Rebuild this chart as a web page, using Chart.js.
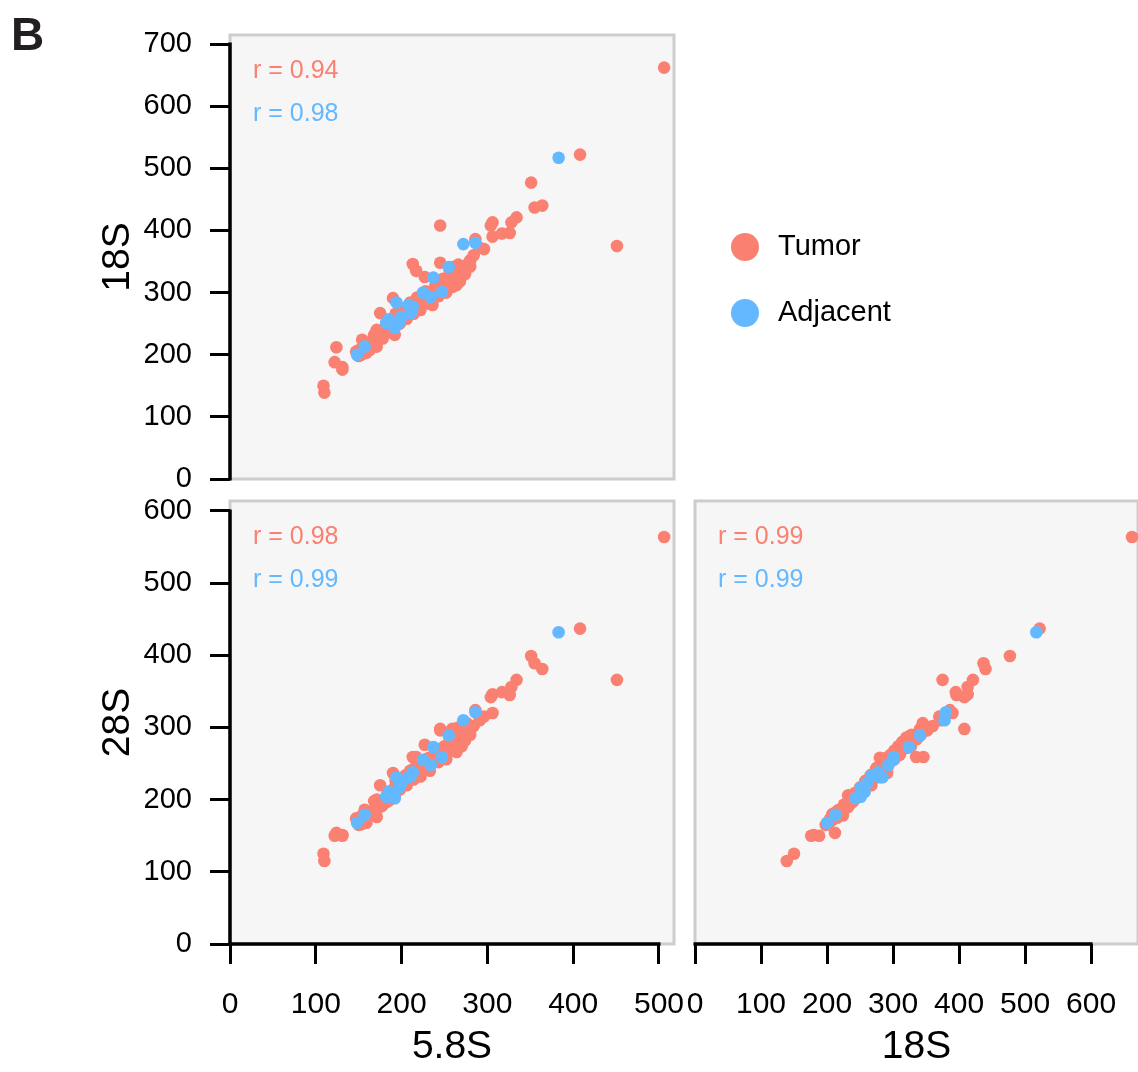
<!DOCTYPE html>
<html>
<head>
<meta charset="utf-8">
<script src="https://cdn.jsdelivr.net/npm/chart.js@4/dist/chart.umd.min.js"></script>
<style>
  html, body { margin: 0; padding: 0; background: #fff; }
  body { width: 1138px; height: 1072px; position: relative; overflow: hidden; }
  canvas { position: absolute; }
  #cTop { left: 0; top: 0; }
  #cLeft { left: 0; top: 490px; }
  #cRight { left: 685px; top: 490px; }
</style>
</head>
<body>
<canvas id="cTop" width="1138" height="490"></canvas>
<canvas id="cLeft" width="685" height="582"></canvas>
<canvas id="cRight" width="453" height="582"></canvas>
<script>
// rRNA abundance per sample: 5.8S, 18S and 28S
const tumor58 = [506,408,351,355,364,451,245,334,328,317,306,304,326,306,286,291,284,276,245,259,
  259,270,213,217,227,190,175,109,110,122,131,131,124,236,221,192,171,154,159,151,
  171,147,150,262,268,272,258,280,266,296,
  150,153,155,158,160,162,163,165,167,168,170,171,173,174,176,177,179,180,182,183,
  185,186,188,189,191,192,194,196,197,199,200,202,204,205,207,209,211,213,215,217,
  219,221,224,226,229,232,235,238,241,244,247,250,254,258,262,266,
  178,184,187,193,198,203,206,210,214,218,222,228,233,239,243,248,252,256,264,270,
  274,280,168,163,157];
const tumor18 = [662,522,477,437,440,375,408,421,413,395,413,408,396,390,386,372,360,345,348,341,
  309,327,346,335,325,291,267,150,139,188,176,180,212,280,275,232,240,224,203,208,
  213,205,198,335,318,338,328,352,345,370,
  204,200,212,206,215,210,220,214,225,218,228,222,232,226,236,230,240,234,244,238,
  248,242,252,246,256,250,260,254,264,258,268,262,272,266,276,270,280,274,284,278,
  288,282,292,286,296,290,300,296,306,302,312,308,318,314,324,320,
  226,250,236,266,250,274,258,284,266,292,272,302,282,310,294,322,300,336,312,340,
  330,342,232,208,218];
const tumor28 = [564,437,399,389,381,366,298,366,356,349,346,342,345,320,324,310,302,306,296,298,
  268,274,259,259,276,237,220,125,115,150,150,151,154,258,244,206,200,178,168,172,
  176,174,165,285,280,292,290,296,300,315,
  170,166,176,172,175,178,180,183,185,180,188,186,190,193,195,191,198,200,202,197,
  206,209,210,206,214,217,218,214,222,226,226,222,230,234,234,230,238,242,242,238,
  246,250,250,246,254,258,258,262,264,268,270,274,276,280,283,286,
  193,211,200,226,214,232,220,240,228,246,232,256,240,262,252,272,256,284,266,288,
  282,290,198,180,186];

const adjacent58 = [383,286,272,255,237,247,234,225,213,208,211,194,200,197,185,190,182,192,157,148];
const adjacent18 = [517,380,378,341,324,301,293,300,277,280,267,284,261,251,257,251,251,243,213,200];
const adjacent28 = [432,321,310,289,273,259,248,255,238,231,233,231,223,216,211,206,204,202,179,168];

// Pearson r printed in each panel: [5.8S vs 18S, 5.8S vs 28S, 18S vs 28S]
const rTumor = [0.94, 0.98, 0.99];
const rAdjacent = [0.98, 0.99, 0.99];

// Tick labels
const ticks58 = [0, 100, 200, 300, 400, 500];
const ticks18Top = [0, 100, 200, 300, 400, 500, 600, 700];
const ticks28 = [0, 100, 200, 300, 400, 500, 600];
const ticks18Bottom = [0, 100, 200, 300, 400, 500, 600];

const FONT = '"Liberation Sans", Arial, Helvetica, sans-serif';
const TUMOR = '#FA8072';
const ADJ = '#63B8FF';
Chart.defaults.font.family = FONT;
Chart.defaults.color = '#000';

function pts(xs, ys) { return xs.map((v, i) => ({ x: v, y: ys[i] })); }
function fixedTicks(values) { return scale => { scale.ticks = values.map(v => ({ value: v })); }; }

const tickGrid = { display: true, drawOnChartArea: false, drawTicks: true, tickLength: 20, tickWidth: 3, tickColor: '#000' };

function yAxis(max, tickVals, title) {
  return {
    type: 'linear', min: 0, max: max,
    afterBuildTicks: fixedTicks(tickVals),
    afterFit: s => { s.width = 230; s.paddingTop = 0; s.paddingBottom = 0; },
    border: { display: false },
    grid: tickGrid,
    ticks: { padding: 18, font: { size: 29 }, color: '#000' },
    title: { display: true, text: title, font: { size: 39 }, color: '#000', padding: { top: 95, bottom: 0 } }
  };
}
function xAxis(max, tickVals, title) {
  return {
    type: 'linear', min: 0, max: max,
    afterBuildTicks: fixedTicks(tickVals),
    afterFit: s => { s.height = 128; s.paddingLeft = 0; s.paddingRight = 0; },
    border: { display: false },
    grid: tickGrid,
    ticks: { padding: 23, font: { size: 30 }, color: '#000', maxRotation: 0, autoSkip: false },
    title: { display: true, text: title, font: { size: 39 }, color: '#000', padding: { top: 0, bottom: 1 } }
  };
}
function hiddenAxis(max) { return { type: 'linear', min: 0, max: max, display: false }; }

// Panel background, frame, axis lines, r values, legend and panel tag
const panelPlugin = {
  id: 'panel',
  beforeDraw(chart) {
    const { ctx, chartArea: a } = chart;
    ctx.save();
    ctx.fillStyle = '#F6F6F6';
    ctx.fillRect(a.left, a.top, a.width, a.height);
    ctx.strokeStyle = '#CFCCCC';
    ctx.lineWidth = 3;
    ctx.strokeRect(a.left, a.top, a.width, a.height);
    ctx.restore();
  },
  afterDraw(chart, args, o) {
    const { ctx, chartArea: a } = chart;
    ctx.save();
    ctx.strokeStyle = '#000';
    ctx.lineWidth = 3.5;
    for (const s of Object.values(chart.scales)) {
      if (!s.options.display) continue;
      const p0 = s.getPixelForValue(s.ticks[0].value);
      const p1 = s.getPixelForValue(s.ticks[s.ticks.length - 1].value);
      ctx.beginPath();
      if (s.isHorizontal()) { ctx.moveTo(p0 - 1.5, s.top); ctx.lineTo(p1 + 1.5, s.top); }
      else { ctx.moveTo(s.right, p0 + 1.5); ctx.lineTo(s.right, p1 - 1.5); }
      ctx.stroke();
    }
    ctx.font = '25px ' + FONT;
    ctx.textAlign = 'left';
    ctx.textBaseline = 'alphabetic';
    ctx.fillStyle = TUMOR;
    ctx.fillText('r = ' + o.rT.toFixed(2), a.left + 23, a.top + 43);
    ctx.fillStyle = ADJ;
    ctx.fillText('r = ' + o.rA.toFixed(2), a.left + 23, a.top + 86);
    if (o.legend) {
      const rows = [247, 313];
      chart.data.datasets.forEach((ds, i) => {
        ctx.fillStyle = ds.backgroundColor;
        ctx.beginPath();
        ctx.arc(745, rows[i], 14, 0, Math.PI * 2);
        ctx.fill();
        ctx.fillStyle = '#000';
        ctx.font = '29px ' + FONT;
        ctx.textBaseline = 'middle';
        ctx.fillText(ds.label, 778, rows[i]);
      });
    }
    if (o.tag) {
      ctx.fillStyle = '#231F20';
      ctx.font = 'bold 46px ' + FONT;
      ctx.textBaseline = 'alphabetic';
      ctx.fillText(o.tag, 11, 50);
    }
    ctx.restore();
  }
};

function datasets(xT, yT, xA, yA) {
  return [
    { label: 'Tumor', data: pts(xT, yT), backgroundColor: TUMOR, pointRadius: 6.3, borderWidth: 0, order: 2 },
    { label: 'Adjacent', data: pts(xA, yA), backgroundColor: ADJ, pointRadius: 6.3, borderWidth: 0, order: 1 }
  ];
}

function makeChart(id, data, scales, padding, panelOpts) {
  return new Chart(document.getElementById(id), {
    type: 'scatter',
    data: { datasets: data },
    options: {
      responsive: false,
      animation: false,
      events: [],
      layout: { padding: padding, autoPadding: false },
      scales: scales,
      plugins: { legend: { display: false }, tooltip: { enabled: false }, panel: panelOpts }
    },
    plugins: [panelPlugin]
  });
}

// 18S vs 5.8S
makeChart('cTop',
  datasets(tumor58, tumor18, adjacent58, adjacent18),
  { x: hiddenAxis(517.5), y: yAxis(714.5, ticks18Top, '18S') },
  { top: 35, right: 464, bottom: 11, left: 0 },
  { rT: rTumor[0], rA: rAdjacent[0], legend: true, tag: 'B' });

// 28S vs 5.8S
makeChart('cLeft',
  datasets(tumor58, tumor28, adjacent58, adjacent28),
  { x: xAxis(517.5, ticks58, '5.8S'), y: yAxis(613.8, ticks28, '28S') },
  { top: 11, right: 11, bottom: 0, left: 0 },
  { rT: rTumor[1], rA: rAdjacent[1], legend: false, tag: '' });

// 28S vs 18S
makeChart('cRight',
  datasets(tumor18, tumor28, adjacent18, adjacent28),
  { x: xAxis(671, ticks18Bottom, '18S'), y: hiddenAxis(613.8) },
  { top: 11, right: 0, bottom: 0, left: 10 },
  { rT: rTumor[2], rA: rAdjacent[2], legend: false, tag: '' });
</script>
</body>
</html>
